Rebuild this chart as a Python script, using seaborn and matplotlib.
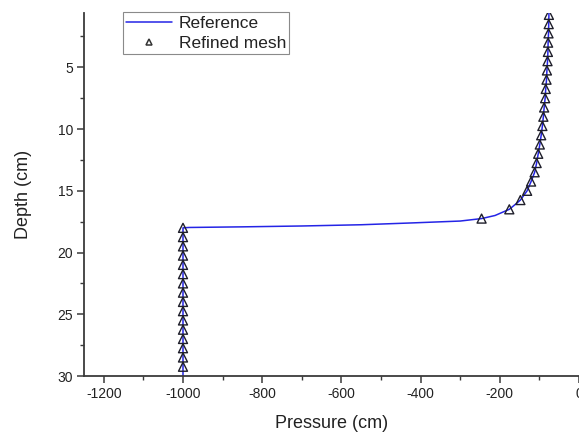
import matplotlib
matplotlib.use("Agg")
import matplotlib.pyplot as plt
import seaborn as sns
import pandas as pd
from matplotlib.ticker import MultipleLocator
from matplotlib.lines import Line2D

# Refined mesh nodes (depth in cm, pressure in cm)
mesh_depth = [0.75, 1.5, 2.25, 3.0, 3.75, 4.5, 5.25, 6.0, 6.75, 7.5, 8.25, 9.0,
              9.75, 10.5, 11.25, 12.0, 12.75, 13.5, 14.25, 15.0, 15.75, 16.5, 17.25,
              18.0, 18.75, 19.5, 20.25, 21.0, 21.75, 22.5, 23.25, 24.0, 24.75,
              25.5, 26.25, 27.0, 27.75, 28.5, 29.25]
mesh_pressure = [-76, -76.5, -77, -78, -78.5, -79.5, -81, -82, -84, -85.5, -88, -90,
                 -92.5, -95.5, -99, -103, -107, -112, -121, -131, -148, -176, -246,
                 -1000, -1000, -1000, -1000, -1000, -1000, -1000, -1000, -1000, -1000,
                 -1000, -1000, -1000, -1000, -1000, -1000]

# Reference solution curve
ref_depth = [0.0, 0.75, 1.5, 2.25, 3.0, 3.75, 4.5, 5.25, 6.0, 6.75, 7.5, 8.25, 9.0,
             9.75, 10.5, 11.25, 12.0, 12.75, 13.5, 14.25, 15.0, 15.75, 16.0, 16.5,
             17.0, 17.25, 17.45, 17.6, 17.75, 17.85, 17.92, 17.97, 18.0, 30.0]
ref_pressure = [-75.5, -76, -76.5, -77, -78, -78.5, -79.5, -81, -82, -84, -85.5, -88, -90,
                -92.5, -95.5, -99, -103, -107, -112, -121, -131, -148, -157, -176,
                -212, -246, -300, -420, -550, -700, -850, -985, -1000, -1000]

sns.set_style("ticks")
plt.rcParams['font.family'] = ['Liberation Sans', 'DejaVu Sans']
plt.rcParams['axes.unicode_minus'] = False

fig = plt.figure(figsize=(5.79, 4.34), dpi=100)
ax = fig.add_axes([84/579, 58/434, 1 - 84/579, (376 - 13)/434])

ref_df = pd.DataFrame({"Pressure": ref_pressure, "Depth": ref_depth})
mesh_df = pd.DataFrame({"Pressure": mesh_pressure, "Depth": mesh_depth})

sns.lineplot(data=ref_df, x="Pressure", y="Depth", sort=False, estimator=None,
             color="#2424e6", linewidth=1.1, ax=ax, legend=False)
sns.scatterplot(data=mesh_df, x="Pressure", y="Depth", marker="^", s=42,
                facecolor="none", edgecolor="#1e1e2a", linewidth=1.0, ax=ax,
                legend=False, zorder=3)

ax.set_xlim(-1250, 0)
ax.set_ylim(30, 0.6)
ax.xaxis.set_major_locator(MultipleLocator(200))
ax.xaxis.set_minor_locator(MultipleLocator(100))
ax.yaxis.set_major_locator(MultipleLocator(5))
ax.yaxis.set_minor_locator(MultipleLocator(2.5))
ax.set_yticks([5, 10, 15, 20, 25, 30])

for s in ["top", "right"]:
    ax.spines[s].set_visible(False)
for s in ["left", "bottom"]:
    ax.spines[s].set_color("#3a3a3a")
    ax.spines[s].set_linewidth(1.3)

ax.tick_params(axis="both", which="major", direction="out", length=5, width=1.1,
               color="#3a3a3a", labelsize=10, labelcolor="#222222", pad=3)
ax.tick_params(axis="both", which="minor", direction="out", length=3, width=1.0,
               color="#3a3a3a")

ax.set_xlabel("Pressure (cm)", fontsize=13, color="#222222", labelpad=10)
ax.set_ylabel("Depth (cm)", fontsize=13, color="#222222", labelpad=18)

handles = [
    Line2D([0], [0], color="#2424e6", linewidth=1.1),
    Line2D([0], [0], marker="^", linestyle="none", markersize=5,
           markerfacecolor="none", markeredgecolor="#333333", markeredgewidth=1.1),
]
leg = fig.legend(handles, ["Reference", "Refined mesh"], loc="upper left",
                 bbox_to_anchor=(123/579, 1 - 12/434), fontsize=12.5,
                 frameon=True, fancybox=False, framealpha=1, borderaxespad=0,
                 borderpad=0.2, labelspacing=0.3, handlelength=2.6,
                 handletextpad=0.4)
leg.get_frame().set_edgecolor("#8a8a8a")
leg.get_frame().set_linewidth(0.8)
for t in leg.get_texts():
    t.set_color("#222222")

fig.savefig("out.png", dpi=100)
